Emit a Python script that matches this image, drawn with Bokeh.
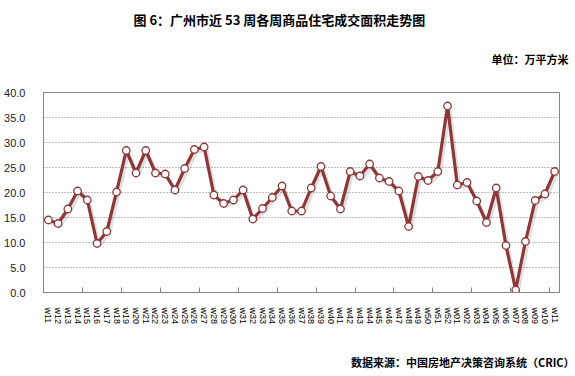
from bokeh.plotting import figure
from bokeh.models import FixedTicker, Title, ColumnDataSource
from bokeh.embed import file_html
from bokeh.resources import INLINE

weeks = ["w11", "w12", "w13", "w14", "w15", "w16", "w17", "w18", "w19", "w20",
         "w21", "w22", "w23", "w24", "w25", "w26", "w27", "w28", "w29", "w30",
         "w31", "w32", "w33", "w34", "w35", "w36", "w37", "w38", "w39", "w40",
         "w41", "w42", "w43", "w44", "w45", "w46", "w47", "w48", "w49", "w50",
         "w51", "w52", "w01", "w02", "w03", "w04", "w05", "w06", "w07", "w08",
         "w09", "w10", "w11"]
area = [14.5, 13.8, 16.7, 20.3, 18.5, 9.8, 12.2, 20.1, 28.4, 23.9,
        28.4, 23.9, 23.7, 20.5, 24.8, 28.6, 29.1, 19.5, 17.8, 18.5,
        20.5, 14.7, 16.8, 19.0, 21.3, 16.3, 16.3, 20.9, 25.2, 19.3,
        16.7, 24.2, 23.3, 25.7, 22.9, 22.2, 20.3, 13.2, 23.2, 22.4,
        24.2, 37.3, 21.5, 22.0, 18.3, 14.0, 20.9, 9.4, 0.5, 10.2,
        18.4, 19.7, 24.2]
y_ticks = [0, 5, 10, 15, 20, 25, 30, 35, 40]

title_text = "图 6：广州市近 53 周各周商品住宅成交面积走势图"
unit_text = "单位：万平方米"
source_text = "数据来源：中国房地产决策咨询系统（CRIC）"

xs = list(range(len(weeks)))
src = ColumnDataSource(dict(x=xs, y=area))
shadow = ColumnDataSource(dict(x=[v + 0.2 for v in xs], y=[v - 0.5 for v in area]))

p = figure(width=575, height=376, output_backend="svg", toolbar_location=None,
           x_range=(-0.5, len(weeks) - 0.5), y_range=(0, 40),
           min_border_left=43, min_border_right=16, min_border_top=0, min_border_bottom=0)
p.background_fill_color = "white"
p.border_fill_color = "white"
p.outline_line_color = "#868686"
p.outline_line_width = 1

# axes
p.xaxis.ticker = FixedTicker(ticks=xs, minor_ticks=[i - 0.5 for i in range(0, len(weeks), 4)])
p.xaxis.major_label_overrides = {i: w for i, w in enumerate(weeks)}
p.xaxis.major_label_orientation = "vertical"
p.xaxis.major_tick_line_color = None
p.xaxis.minor_tick_in = 5
p.xaxis.minor_tick_out = 0
p.xaxis.minor_tick_line_color = "#868686"
p.xaxis.axis_line_color = "#868686"
p.xaxis.major_label_text_font = "Liberation Sans"
p.xaxis.major_label_text_font_size = "9px"
p.xaxis.major_label_text_color = "#000000"
p.xaxis.major_label_standoff = 9

p.yaxis.ticker = FixedTicker(ticks=y_ticks)
p.yaxis.major_label_overrides = {t: f"{t:.1f}" for t in y_ticks}
p.yaxis.major_tick_line_color = None
p.yaxis.minor_tick_line_color = None
p.yaxis.axis_line_color = "#868686"
p.yaxis.major_label_text_font = "Liberation Sans"
p.yaxis.major_label_text_font_size = "11px"
p.yaxis.major_label_text_color = "#1a1a2e"
p.yaxis.major_label_standoff = 12

p.xgrid.grid_line_color = None
p.ygrid.ticker = FixedTicker(ticks=y_ticks[1:-1])
p.ygrid.grid_line_color = "#7f7f7f"
p.ygrid.grid_line_dash = "1 2"
p.ygrid.grid_line_width = 1

# shadow + line + markers
p.line("x", "y", source=shadow, line_color="#000000", line_alpha=0.12, line_width=4)
p.line("x", "y", source=src, line_color="#8C3838", line_width=3.2)
p.scatter("x", "y", source=src, size=7.5, fill_color="white", line_color="#8C3838", line_width=1.3)

# texts (stacked panels: first added sits nearest the frame)
def spacer(standoff):
    return Title(text=" ", standoff=standoff, text_font_size="1px", text_color="white")

unit_title = Title(text=unit_text, align="right", offset=-9, standoff=23, vertical_align="top",
                   text_font="Noto Sans CJK SC", text_font_style="bold",
                   text_font_size="11px", text_color="#000000")
main_title = Title(text=title_text, align="left", offset=90, standoff=18, vertical_align="top",
                   text_font="Noto Sans CJK SC", text_font_style="bold",
                   text_font_size="13px", text_color="#000000")
src_title = Title(text=source_text, align="right", offset=-15, standoff=13,
                  text_font="Noto Sans CJK SC", text_font_style="bold",
                  text_font_size="11px", text_color="#000000")
p.add_layout(spacer(9), "above")
p.add_layout(unit_title, "above")
p.add_layout(main_title, "above")
p.add_layout(spacer(15), "below")
p.add_layout(src_title, "below")

open("out.html", "w").write(file_html(p, INLINE))
